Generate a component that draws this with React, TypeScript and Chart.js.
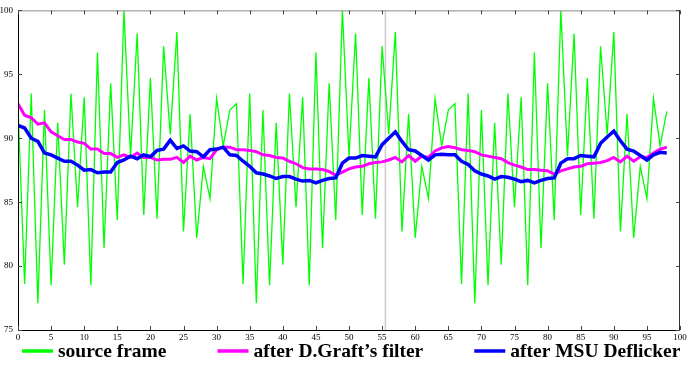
import React, { useEffect, useRef } from "react";
import { Chart, registerables } from "chart.js";

Chart.register(...registerables);

const frames: number[] = Array.from({ length: 99 }, (_, i) => i);

const sourceFrame: number[] = [
  92.5, 78.6, 93.5, 77.1, 92.2, 78.5, 91.2, 80.1, 93.5, 84.6, 93.2, 78.5, 96.7, 81.4, 94.3, 83.6, 100, 88.6, 98.2, 84.0, 94.7, 83.7, 97.2, 90.3, 98.3, 82.7, 91.9, 82.2, 87.8, 85.3, 93.1, 89.4, 92.2,
  92.7, 78.6, 93.5, 77.1, 92.2, 78.5, 91.2, 80.1, 93.5, 84.6, 93.2, 78.5, 96.7, 81.4, 94.3, 83.6, 100, 88.6, 98.2, 84.0, 94.7, 83.7, 97.2, 90.3, 98.3, 82.7, 91.9, 82.2, 87.8, 85.3, 93.1, 89.4, 92.2,
  92.7, 78.6, 93.5, 77.1, 92.2, 78.5, 91.2, 80.1, 93.5, 84.6, 93.2, 78.5, 96.7, 81.4, 94.3, 83.6, 100, 88.6, 98.2, 84.0, 94.7, 83.7, 97.2, 90.3, 98.3, 82.7, 91.9, 82.2, 87.8, 85.3, 93.1, 89.4, 92.1,
];

const graftFilter: number[] = [
  92.7, 91.8, 91.6, 91.1, 91.2, 90.5, 90.2, 89.9, 89.9, 89.7, 89.6, 89.15, 89.15, 88.8, 88.8, 88.5, 88.7, 88.5, 88.85, 88.5,
  88.5, 88.3, 88.35, 88.35, 88.5, 88.1, 88.6, 88.3, 88.5, 88.4, 89.1, 89.3, 89.3, 89.1, 89.1, 89.05, 88.95, 88.7, 88.65, 88.5,
  88.45, 88.2, 88.0, 87.7, 87.6, 87.6, 87.55, 87.4, 87.1, 87.35, 87.6, 87.75, 87.8, 88.0, 88.1, 88.15, 88.3, 88.5, 88.15, 88.65,
  88.2, 88.6, 88.5, 89.0, 89.25, 89.35, 89.25, 89.1, 89.05, 88.95, 88.7, 88.6, 88.5, 88.4, 88.1, 87.9, 87.75, 87.55, 87.55, 87.5,
  87.45, 87.2, 87.45, 87.6, 87.75, 87.8, 88.0, 88.05, 88.1, 88.25, 88.5, 88.15, 88.6, 88.2, 88.55, 88.5, 88.85, 89.15, 89.3,
];

const msuDeflicker: number[] = [
  91.0, 90.8, 90.0, 89.75, 88.85, 88.7, 88.45, 88.2, 88.2, 87.9, 87.5, 87.55, 87.3, 87.35, 87.35, 88.1, 88.3, 88.6, 88.4, 88.7,
  88.55, 89.05, 89.15, 89.85, 89.2, 89.4, 89.0, 88.95, 88.55, 89.1, 89.15, 89.3, 88.7, 88.65, 88.2, 87.8, 87.3, 87.2, 87.05, 86.85,
  87.0, 87.0, 86.8, 86.65, 86.7, 86.5, 86.7, 86.85, 86.9, 88.05, 88.45, 88.45, 88.65, 88.6, 88.55, 89.5, 90.0, 90.5, 89.75, 89.1,
  89.0, 88.65, 88.3, 88.7, 88.75, 88.7, 88.7, 88.2, 87.95, 87.45, 87.2, 87.05, 86.8, 87.0, 86.95, 86.8, 86.6, 86.7, 86.5, 86.7,
  86.85, 86.9, 88.05, 88.4, 88.4, 88.65, 88.6, 88.55, 89.6, 90.1, 90.55, 89.8, 89.15, 89.0, 88.65, 88.3, 88.7, 88.9, 88.85,
];

const xTicks: number[] = [0, 5, 10, 15, 20, 25, 30, 35, 40, 45, 50, 55, 60, 65, 70, 75, 80, 85, 90, 95, 100];
const yTicks: number[] = [75, 80, 85, 90, 95, 100];
const markerFrame = 55.5;

const seriesNames = ["source frame", "after D.Graft\u2019s filter", "after MSU Deflicker"];
const seriesColors = ["#00ff00", "#ff00ff", "#0000ff"];

const framePlugin = {
  id: "framePlugin",
  beforeDatasetsDraw(chart: any) {
    const { ctx, chartArea: a, scales } = chart;
    const x = scales.x.getPixelForValue(markerFrame);
    ctx.save();
    ctx.strokeStyle = "#cccccc";
    ctx.lineWidth = 1.5;
    ctx.beginPath();
    ctx.moveTo(x, a.top);
    ctx.lineTo(x, a.bottom);
    ctx.stroke();
    ctx.restore();
  },
  afterDatasetsDraw(chart: any) {
    const { ctx, chartArea: a, scales } = chart;
    ctx.save();
    ctx.lineWidth = 1;
    ctx.strokeStyle = "#8a8a8a";
    ctx.beginPath();
    ctx.moveTo(a.left, a.top + 0.5);
    ctx.lineTo(a.right, a.top + 0.5);
    ctx.stroke();
    ctx.strokeStyle = "#333333";
    ctx.beginPath();
    ctx.moveTo(a.right - 0.5, a.top);
    ctx.lineTo(a.right - 0.5, a.bottom);
    ctx.stroke();
    ctx.strokeStyle = "#000000";
    ctx.beginPath();
    ctx.moveTo(a.left + 0.5, a.top);
    ctx.lineTo(a.left + 0.5, a.bottom + 0.5);
    ctx.lineTo(a.right, a.bottom + 0.5);
    ctx.stroke();
    ctx.strokeStyle = "#444444";
    xTicks.forEach((v) => {
      const px = Math.round(scales.x.getPixelForValue(v)) + 0.5;
      ctx.beginPath();
      ctx.moveTo(px, a.bottom);
      ctx.lineTo(px, a.bottom - 4);
      ctx.moveTo(px, a.top);
      ctx.lineTo(px, a.top + 4);
      ctx.stroke();
    });
    yTicks.forEach((v) => {
      const py = Math.round(scales.y.getPixelForValue(v)) + 0.5;
      ctx.beginPath();
      ctx.moveTo(a.left, py);
      ctx.lineTo(a.left + 4, py);
      ctx.moveTo(a.right, py);
      ctx.lineTo(a.right - 4, py);
      ctx.stroke();
    });
    ctx.restore();
  },
  afterDraw(chart: any) {
    const { ctx } = chart;
    ctx.save();
    ctx.font = "bold 19.5px 'Liberation Serif', 'Times New Roman', serif";
    ctx.textBaseline = "alphabetic";
    ctx.textAlign = "left";
    let x = 22;
    const lineY = 351;
    const baseY = 357;
    seriesNames.forEach((name, i) => {
      ctx.strokeStyle = seriesColors[i];
      ctx.lineWidth = 3.5;
      ctx.beginPath();
      ctx.moveTo(x, lineY);
      ctx.lineTo(x + 31, lineY);
      ctx.stroke();
      ctx.fillStyle = "#000000";
      ctx.fillText(name, x + 36, baseY);
      x += 36 + ctx.measureText(name).width + 51;
    });
    ctx.restore();
  },
};

export default function App() {
  const ref = useRef<HTMLCanvasElement | null>(null);
  useEffect(() => {
    if (!ref.current) return;
    const chart = new Chart(ref.current, {
      type: "line",
      data: {
        labels: frames,
        datasets: [
          {
            label: seriesNames[0],
            data: frames.map((f, i) => ({ x: f, y: sourceFrame[i] })),
            borderColor: seriesColors[0],
            borderWidth: 1.3,
            pointRadius: 0,
            tension: 0,
            order: 3,
          },
          {
            label: seriesNames[1],
            data: frames.map((f, i) => ({ x: f, y: graftFilter[i] })),
            borderColor: seriesColors[1],
            borderWidth: 3,
            pointRadius: 0,
            tension: 0,
            order: 2,
          },
          {
            label: seriesNames[2],
            data: frames.map((f, i) => ({ x: f, y: msuDeflicker[i] })),
            borderColor: seriesColors[2],
            borderWidth: 3.5,
            pointRadius: 0,
            tension: 0,
            order: 1,
          },
        ],
      },
      options: {
        animation: false,
        responsive: false,
        layout: { padding: { left: 0, top: 5, right: 10, bottom: 23 } },
        plugins: { legend: { display: false }, tooltip: { enabled: false } },
        scales: {
          x: {
            type: "linear",
            min: 0,
            max: 100,
            grid: { display: false, drawTicks: false },
            border: { display: false },
            afterBuildTicks: (s: any) => {
              s.ticks = xTicks.map((v) => ({ value: v }));
            },
            afterFit: (s: any) => {
              s.height = 12;
            },
            ticks: {
              padding: 2,
              color: "#000",
              maxRotation: 0,
              autoSkip: false,
              font: { family: "'Liberation Serif', serif", size: 9 },
            },
          },
          y: {
            min: 75,
            max: 100,
            grid: { display: false, drawTicks: false },
            border: { display: false },
            afterBuildTicks: (s: any) => {
              s.ticks = yTicks.map((v) => ({ value: v }));
            },
            afterFit: (s: any) => {
              s.width = 18;
            },
            ticks: {
              padding: 5,
              color: "#000",
              font: { family: "'Liberation Serif', serif", size: 9 },
            },
          },
        },
      },
      plugins: [framePlugin],
    });
    return () => chart.destroy();
  }, []);
  return (
    <div style={{ position: "fixed", left: 0, top: 0, width: 690, height: 365, background: "#fff" }}>
      <canvas ref={ref} width={690} height={365} style={{ display: "block" }} />
    </div>
  );
}
